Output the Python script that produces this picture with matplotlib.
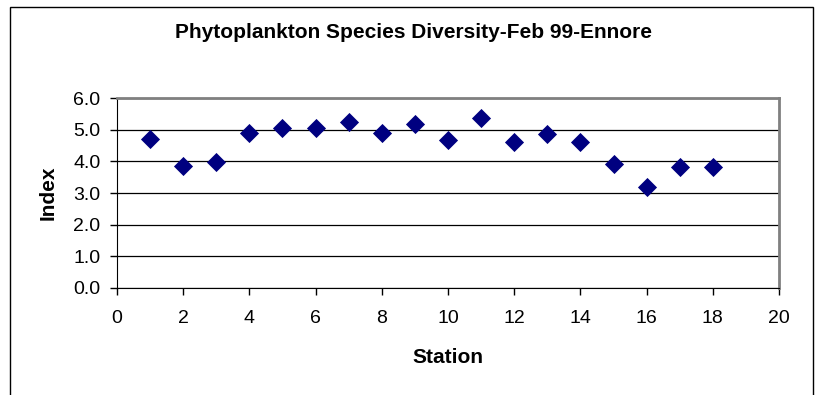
import matplotlib
matplotlib.use("Agg")
import matplotlib.pyplot as plt
from matplotlib.patches import Rectangle

# Station numbers and diversity index values
stations = [1, 2, 3, 4, 5, 6, 7, 8, 9, 10, 11, 12, 13, 14, 15, 16, 17, 18]
diversity = [4.70, 3.87, 3.97, 4.89, 5.07, 5.05, 5.26, 4.89, 5.18, 4.67,
             5.39, 4.61, 4.87, 4.61, 3.91, 3.20, 3.82, 3.82]

x_ticks = [0, 2, 4, 6, 8, 10, 12, 14, 16, 18, 20]
y_ticks = [0.0, 1.0, 2.0, 3.0, 4.0, 5.0, 6.0]

plt.rcParams['font.family'] = ['Liberation Sans', 'DejaVu Sans']

fig = plt.figure(figsize=(8.17, 3.95), dpi=100)
ax = fig.add_axes([0.1432, 0.2716, 0.8103, 0.4795])

# outer chart border (bottom runs off the image)
fig.patches.append(Rectangle((10 / 817, -0.05), 803 / 817, 1.05 - 7 / 395,
                             transform=fig.transFigure, fill=False,
                             edgecolor='black', linewidth=1.0, clip_on=False))

ax.scatter(stations, diversity, marker='D', s=95, color='#000080', zorder=3,
           linewidths=0)

ax.set_xlim(0, 20)
ax.set_ylim(0, 6)
ax.set_xticks(x_ticks)
ax.set_yticks(y_ticks)
ax.set_yticklabels([f'{v:.1f}' for v in y_ticks])
ax.tick_params(axis='both', direction='out', length=5, width=1, labelsize=14,
               colors='black')
ax.tick_params(axis='x', pad=11)
ax.tick_params(axis='y', pad=7)

ax.yaxis.grid(True, color='black', linewidth=0.9)
ax.set_axisbelow(True)

ax.spines['left'].set_color('black')
ax.spines['bottom'].set_color('black')
ax.spines['top'].set_color('#808080')
ax.spines['right'].set_color('#808080')
ax.spines['top'].set_linewidth(2)
ax.spines['right'].set_linewidth(2)

ax.set_xlabel('Station', fontsize=15, fontweight='bold', va='center')
ax.set_ylabel('Index', fontsize=15, fontweight='bold', va='center')
ax.xaxis.set_label_coords(0.5, (287.7 - 357) / 189.4)
ax.yaxis.set_label_coords((48 - 117) / 662, 0.5)
fig.text(413 / 817, 1 - 32 / 395, 'Phytoplankton Species Diversity-Feb 99-Ennore',
         ha='center', va='center', fontsize=15, fontweight='bold')

fig.savefig('out.png', dpi=100)
